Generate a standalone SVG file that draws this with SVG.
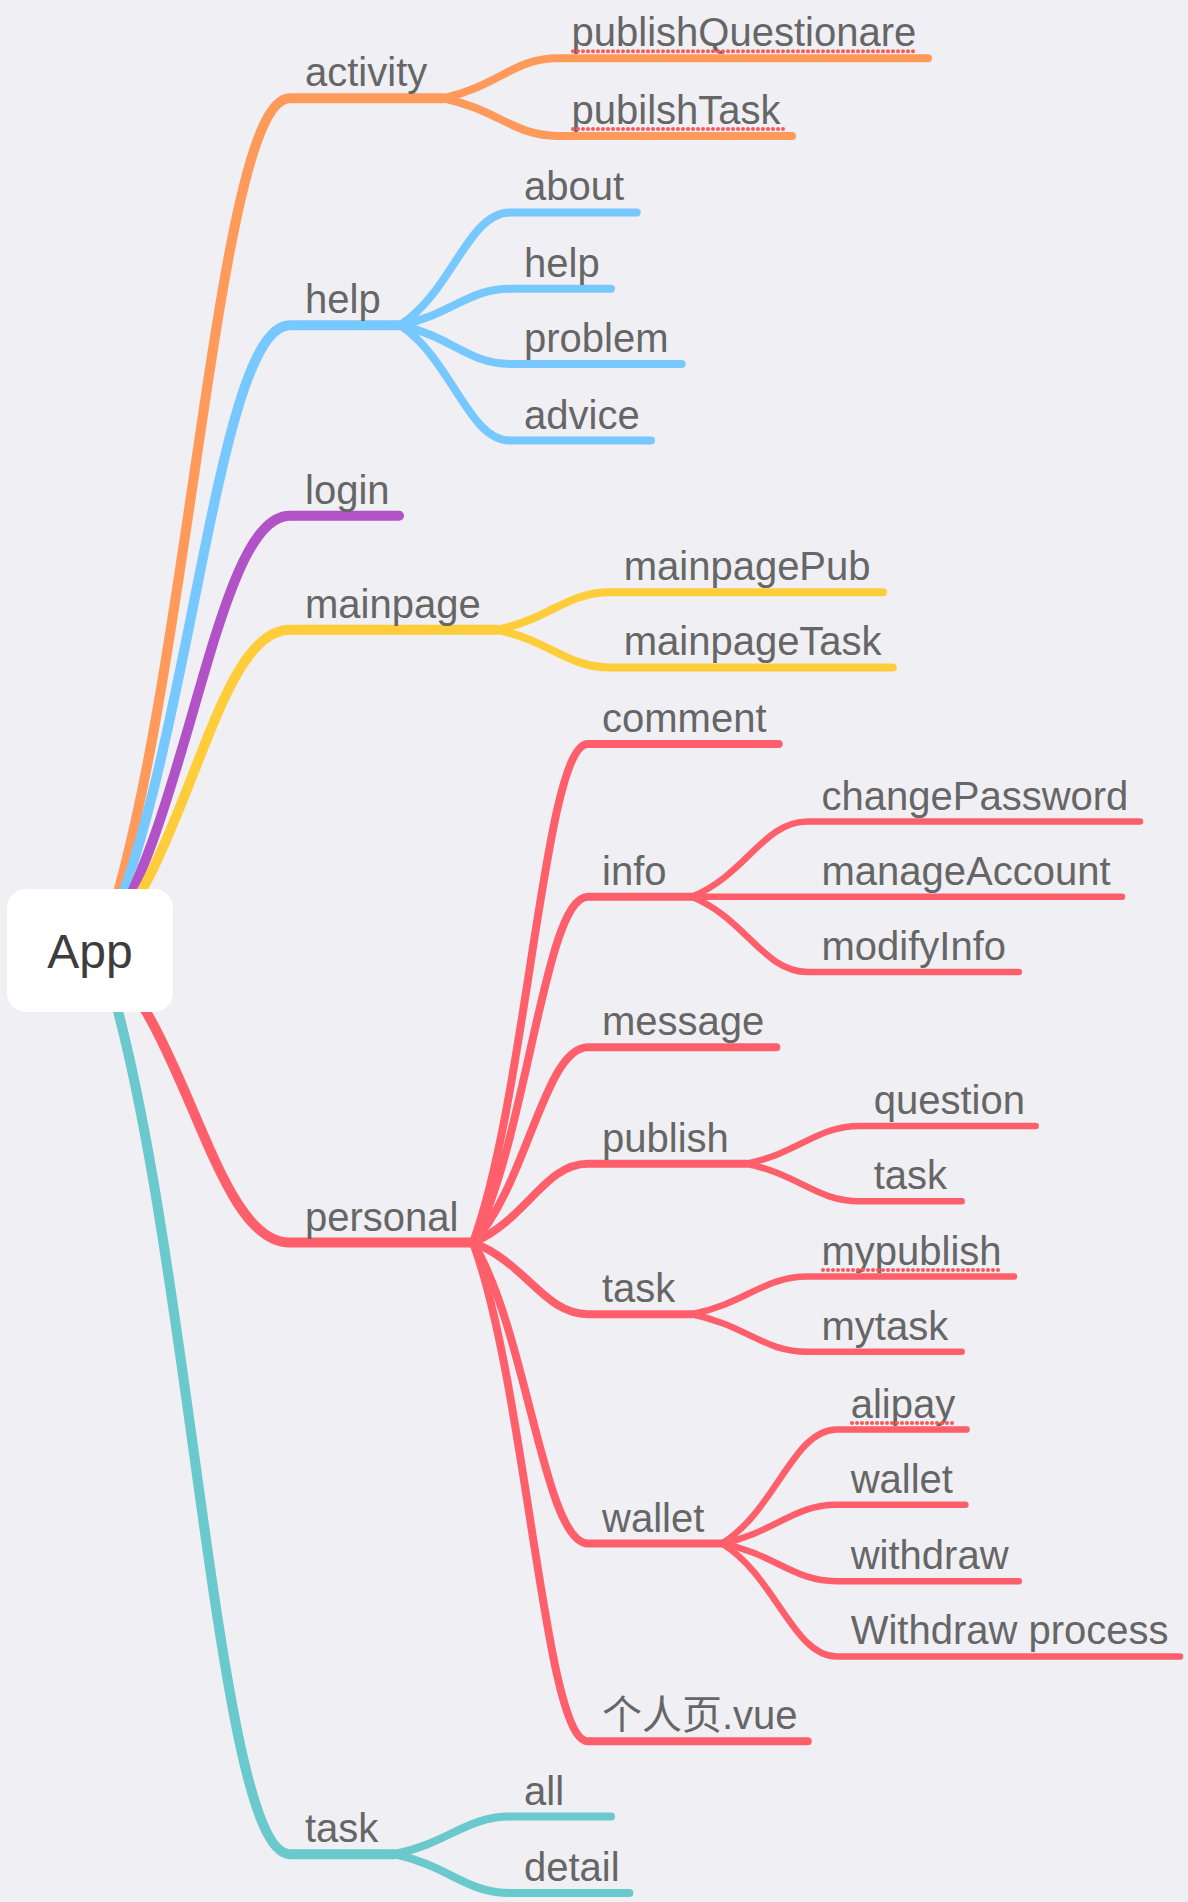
<svg xmlns="http://www.w3.org/2000/svg" width="1188" height="1902" viewBox="0 0 1188 1902">
<style>
.c{fill:none;stroke-linecap:round;stroke-linejoin:round}
.l1{stroke-width:10}
.l2{stroke-width:8}
.l3{stroke-width:6.5}
.or{stroke:#ff9a5a}
.bl{stroke:#77c8ff}
.pu{stroke:#b152c7}
.ye{stroke:#ffcc3a}
.re{stroke:#ff5f6b}
.te{stroke:#69c9cd}
text{font-family:"Liberation Sans","Noto Sans CJK SC",Arial,sans-serif;font-size:40px;fill:#666666}
.root{font-size:48px;fill:#3d3d3d;text-anchor:middle}
.sp{fill:none;stroke:#ff5555;stroke-width:4;stroke-linecap:round;stroke-dasharray:0 5}
</style>
<rect x="0" y="0" width="1188" height="1902" fill="#efeff4"/>
<g id="connectors">
  <path class="c l1 or" d="M100 950 C190 700.5 215 98.3 290 98.3 H443"/>
  <path class="c l1 bl" d="M100 950 C190 766.9 215 325.2 290 325.2 H400"/>
  <path class="c l1 pu" d="M100 950 C190 822.7 215 515.7 290 515.7 H399"/>
  <path class="c l1 ye" d="M100 950 C190 856.2 215 629.8 290 629.8 H497"/>
  <path class="c l1 re" d="M100 950 C190 1035.7 215 1242.6 290 1242.6 H473"/>
  <path class="c l1 te" d="M100 950 C190 1214.9 215 1854.2 290 1854.2 H394"/>
  <path class="c l2 or" d="M443 98.3 C496.9 86.55 514.1 58.2 557.6 58.2 H928"/>
  <path class="c l2 or" d="M443 98.3 C496.9 109.3 514.1 135.9 557.6 135.9 H792"/>
  <path class="c l2 bl" d="M400 325.2 C451.7 292.2 468.2 212.4 510 212.4 H636.7"/>
  <path class="c l2 bl" d="M400 325.2 C451.7 314.5 468.2 288.8 510 288.8 H611"/>
  <path class="c l2 bl" d="M400 325.2 C451.7 336.6 468.2 364 510 364 H681.6"/>
  <path class="c l2 bl" d="M400 325.2 C451.7 359 468.2 440.5 510 440.5 H651"/>
  <path class="c l2 ye" d="M497 629.8 C550 618.8 566.9 592.2 609.7 592.2 H883"/>
  <path class="c l2 ye" d="M497 629.8 C550 640.8 566.9 667.4 609.7 667.4 H892.8"/>
  <path class="c l2 re" d="M473 1242.6 C527 1096.5 544.3 743.9 588 743.9 H778.7"/>
  <path class="c l2 re" d="M473 1242.6 C527 1141.3 544.3 896.8 588 896.8 H691.7"/>
  <path class="c l2 re" d="M473 1242.6 C527 1185.3 544.3 1047.2 588 1047.2 H776.3"/>
  <path class="c l2 re" d="M473 1242.6 C527 1219.5 544.3 1163.7 588 1163.7 H746.3"/>
  <path class="c l2 re" d="M473 1242.6 C527 1263.6 544.3 1314.2 588 1314.2 H691.7"/>
  <path class="c l2 re" d="M473 1242.6 C527 1330.8 544.3 1543.5 588 1543.5 H722"/>
  <path class="c l2 re" d="M473 1242.6 C527 1388.7 544.3 1741.3 588 1741.3 H807.8"/>
  <path class="c l2 te" d="M394 1854.2 C448.5 1843.2 465.9 1816.6 510 1816.6 H611"/>
  <path class="c l2 te" d="M394 1854.2 C448.5 1865.6 465.9 1893 510 1893 H629.4"/>
  <path class="c l3 re" d="M691.7 896.8 C746.1 874.7 763.5 821.5 807.5 821.5 H1140"/>
  <path class="c l3 re" d="M691.7 896.8 H1122"/>
  <path class="c l3 re" d="M691.7 896.8 C746.1 918.8 763.5 972 807.5 972 H1018.8"/>
  <path class="c l3 re" d="M746.3 1163.7 C799.6 1152.7 816.6 1126 859.7 1126 H1035.7"/>
  <path class="c l3 re" d="M746.3 1163.7 C799.6 1174.7 816.6 1201.3 859.7 1201.3 H961.7"/>
  <path class="c l3 re" d="M691.7 1314.2 C746.1 1303.2 763.5 1276.6 807.5 1276.6 H1014"/>
  <path class="c l3 re" d="M691.7 1314.2 C746.1 1325.2 763.5 1351.8 807.5 1351.8 H961.7"/>
  <path class="c l3 re" d="M722 1543.5 C775.9 1510.1 793.1 1429.5 836.7 1429.5 H966.6"/>
  <path class="c l3 re" d="M722 1543.5 C775.9 1532.1 793.1 1504.7 836.7 1504.7 H965.4"/>
  <path class="c l3 re" d="M722 1543.5 C775.9 1554.5 793.1 1581.2 836.7 1581.2 H1018.8"/>
  <path class="c l3 re" d="M722 1543.5 C775.9 1576.6 793.1 1656.4 836.7 1656.4 H1180"/>
</g>
<g id="node-app">
  <rect x="7" y="889" width="166" height="123" rx="19" fill="#ffffff"/>
  <text class="root" x="90" y="968">App</text>
</g>
<g id="node-activity"><text x="305" y="86.3">activity</text></g>
<g id="node-publishQuestionare"><text x="571.6" y="46.2">publishQuestionare</text><path class="sp" d="M573 51.2 H916"/></g>
<g id="node-pubilshTask"><text x="571.6" y="123.9">pubilshTask</text><path class="sp" d="M573 128.9 H786"/></g>
<g id="node-help"><text x="305" y="313.2">help</text></g>
<g id="node-about"><text x="524" y="200.4">about</text></g>
<g id="node-help-help"><text x="524" y="276.8">help</text></g>
<g id="node-problem"><text x="524" y="352">problem</text></g>
<g id="node-advice"><text x="524" y="428.5">advice</text></g>
<g id="node-login"><text x="305" y="503.7">login</text></g>
<g id="node-mainpage"><text x="305" y="617.8">mainpage</text></g>
<g id="node-mainpagePub"><text x="623.7" y="580.2">mainpagePub</text></g>
<g id="node-mainpageTask"><text x="623.7" y="655.4">mainpageTask</text></g>
<g id="node-personal"><text x="305" y="1230.6">personal</text></g>
<g id="node-comment"><text x="602" y="731.9">comment</text></g>
<g id="node-info"><text x="602" y="884.8">info</text></g>
<g id="node-changePassword"><text x="821.5" y="809.5">changePassword</text></g>
<g id="node-manageAccount"><text x="821.5" y="884.8">manageAccount</text></g>
<g id="node-modifyInfo"><text x="821.5" y="960">modifyInfo</text></g>
<g id="node-message"><text x="602" y="1035.2">message</text></g>
<g id="node-publish"><text x="602" y="1151.7">publish</text></g>
<g id="node-question"><text x="873.7" y="1114">question</text></g>
<g id="node-publish-task"><text x="873.7" y="1189.3">task</text></g>
<g id="node-personal-task"><text x="602" y="1302.2">task</text></g>
<g id="node-mypublish"><text x="821.5" y="1264.6">mypublish</text><path class="sp" d="M823 1270 H1003"/></g>
<g id="node-mytask"><text x="821.5" y="1339.8">mytask</text></g>
<g id="node-wallet"><text x="602" y="1531.5">wallet</text></g>
<g id="node-alipay"><text x="850.7" y="1417.5">alipay</text><path class="sp" d="M852 1423 H956"/></g>
<g id="node-wallet-wallet"><text x="850.7" y="1492.7">wallet</text></g>
<g id="node-withdraw"><text x="850.7" y="1569.2">withdraw</text></g>
<g id="node-withdraw-process"><text x="850.7" y="1644.4">Withdraw process</text></g>
<g id="node-personal-vue"><text x="602" y="1729.3">个人页.vue</text></g>
<g id="node-task"><text x="305" y="1842.2">task</text></g>
<g id="node-all"><text x="524" y="1804.6">all</text></g>
<g id="node-detail"><text x="524" y="1881">detail</text></g>
</svg>
